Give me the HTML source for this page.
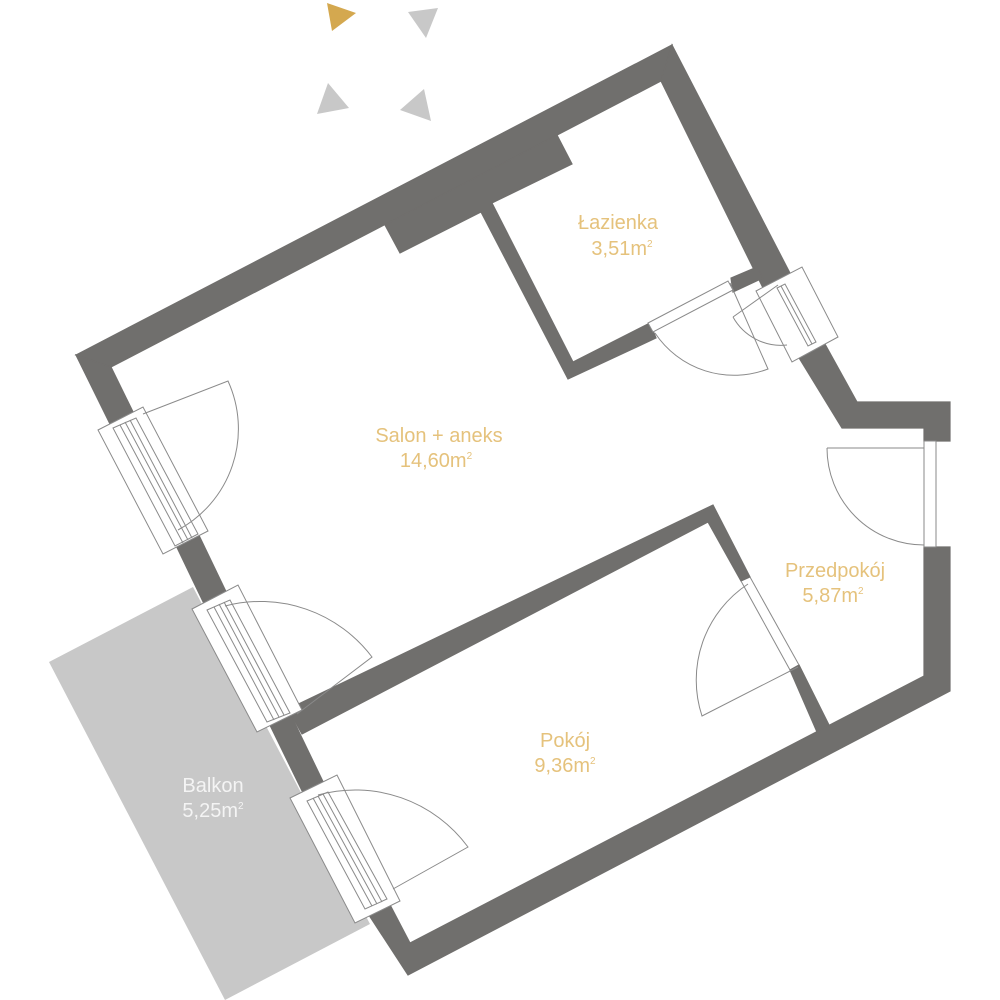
<!DOCTYPE html>
<html><head><meta charset="utf-8"><style>
html,body{margin:0;padding:0;background:#fff;}
svg{display:block;}
.t{font-family:"Liberation Sans",sans-serif;font-size:20px;fill:#e5c27c;text-anchor:middle;}
.b{font-family:"Liberation Sans",sans-serif;font-size:20px;fill:#f4f4f4;text-anchor:middle;}
.w{fill:#706f6d;stroke:#706f6d;stroke-width:1.2;stroke-linejoin:miter;}
.f{fill:#fff;stroke:#8a8a8a;stroke-width:1;}
.l{fill:none;stroke:#8a8a8a;stroke-width:1;}
</style></head><body>
<svg width="1000" height="1000" viewBox="0 0 1000 1000" xmlns="http://www.w3.org/2000/svg">
<polygon points="327,3 356,13 332,31" fill="#d4a84f"/>
<polygon points="408,12 438,8 426,38" fill="#c8c8c8"/>
<polygon points="328,83 349,108 317,114" fill="#c8c8c8"/>
<polygon points="424,89 431,121 400,110" fill="#c8c8c8"/>
<polygon points="193,587 49,662 225,1000 370,924" fill="#c8c8c8"/>
<polygon class="w" points="76,355 672,45 661,81 111,367"/>
<polygon class="w" points="672,45 792,277 765,292 661,81"/>
<polygon class="w" points="820,335 857,402 950,402 950,441 924,441 924,428 842,428 793,348"/>
<polygon class="w" points="76,355 111,367 136,418 113,430"/>
<polygon class="w" points="172,537 195,527 230,600 207,610"/>
<polygon class="w" points="267,719 288,709 328,792 307,801"/>
<polygon class="w" points="288,709 713,505 750,577 741,581 708,522 302,734"/>
<polygon class="w" points="790,670 799,665 829,725 817,732"/>
<polygon class="w" points="365,909 387,899 410,943 924,676 924,547 950,547 950,691 408,975"/>
<polygon class="w" points="385,225 557,135 572,164 492,203 573,362 650,323 656,338 568,379 481,212 400,253"/>
<polygon class="w" points="731,278 757,267 763,278 733,292"/>
<polygon class="f" points="98,430 143,407 208,531 163,554"/>
<polygon class="f" points="113,428 136,418 198,534 175,546"/>
<line class="l" x1="120" y1="425" x2="183" y2="543"/>
<line class="l" x1="125" y1="422" x2="188" y2="540"/>
<line class="l" x1="130" y1="420" x2="192" y2="538"/>
<polygon class="f" points="192,609 238,585 302,710 257,732"/>
<polygon class="f" points="207,610 230,600 290,713 267,722"/>
<line class="l" x1="214" y1="607" x2="274" y2="720"/>
<line class="l" x1="219" y1="604" x2="279" y2="717"/>
<line class="l" x1="224" y1="602" x2="284" y2="715"/>
<polygon class="f" points="290,798 337,775 400,901 355,923"/>
<polygon class="f" points="307,801 328,792 387,899 365,909"/>
<line class="l" x1="313" y1="798" x2="372" y2="906"/>
<line class="l" x1="318" y1="796" x2="377" y2="904"/>
<line class="l" x1="323" y1="794" x2="382" y2="902"/>
<polygon class="f" points="756,291 802,267 838,337 792,362"/>
<polygon class="f" points="777,288 785,284 816,342 808,346"/>
<line class="l" x1="781" y1="286" x2="812" y2="344"/>
<path class="l" d="M143,414 L228,381 A115 115 0 0 1 178,530"/>
<path class="l" d="M225,606 A140 140 0 0 1 372,657 L297,714"/>
<path class="l" d="M318,795 A140 140 0 0 1 468,847 L393,889"/>
<path class="l" d="M748,584 A115 115 0 0 0 702,716 L798,667"/>
<line class="l" x1="741" y1="581" x2="790" y2="670"/>
<line class="l" x1="750" y1="577" x2="799" y2="665"/>
<path class="l" d="M827,448 L936,448 M827,448 A97 97 0 0 0 924,545"/>
<rect class="f" x="924" y="441" width="12" height="106"/>
<polygon class="f" points="648,323 728,281 733,290 653,332"/>
<path class="l" d="M655,333 A95 95 0 0 0 768,369 L730,283"/>
<path class="l" d="M733,317 L778,285 M733,317 A55 55 0 0 0 787,345"/>
<text class="t" x="618" y="229">Łazienka</text>
<text class="t" x="622" y="255">3,51m<tspan font-size="10" dy="-8">2</tspan></text>
<text class="t" x="439" y="442">Salon + aneks</text>
<text class="t" x="436" y="467">14,60m<tspan font-size="10" dy="-8">2</tspan></text>
<text class="t" x="835" y="577">Przedpokój</text>
<text class="t" x="833" y="602">5,87m<tspan font-size="10" dy="-8">2</tspan></text>
<text class="t" x="565" y="747">Pokój</text>
<text class="t" x="565" y="772">9,36m<tspan font-size="10" dy="-8">2</tspan></text>
<text class="b" x="213" y="792">Balkon</text>
<text class="b" x="213" y="817">5,25m<tspan font-size="10" dy="-8">2</tspan></text>
</svg>
</body></html>
